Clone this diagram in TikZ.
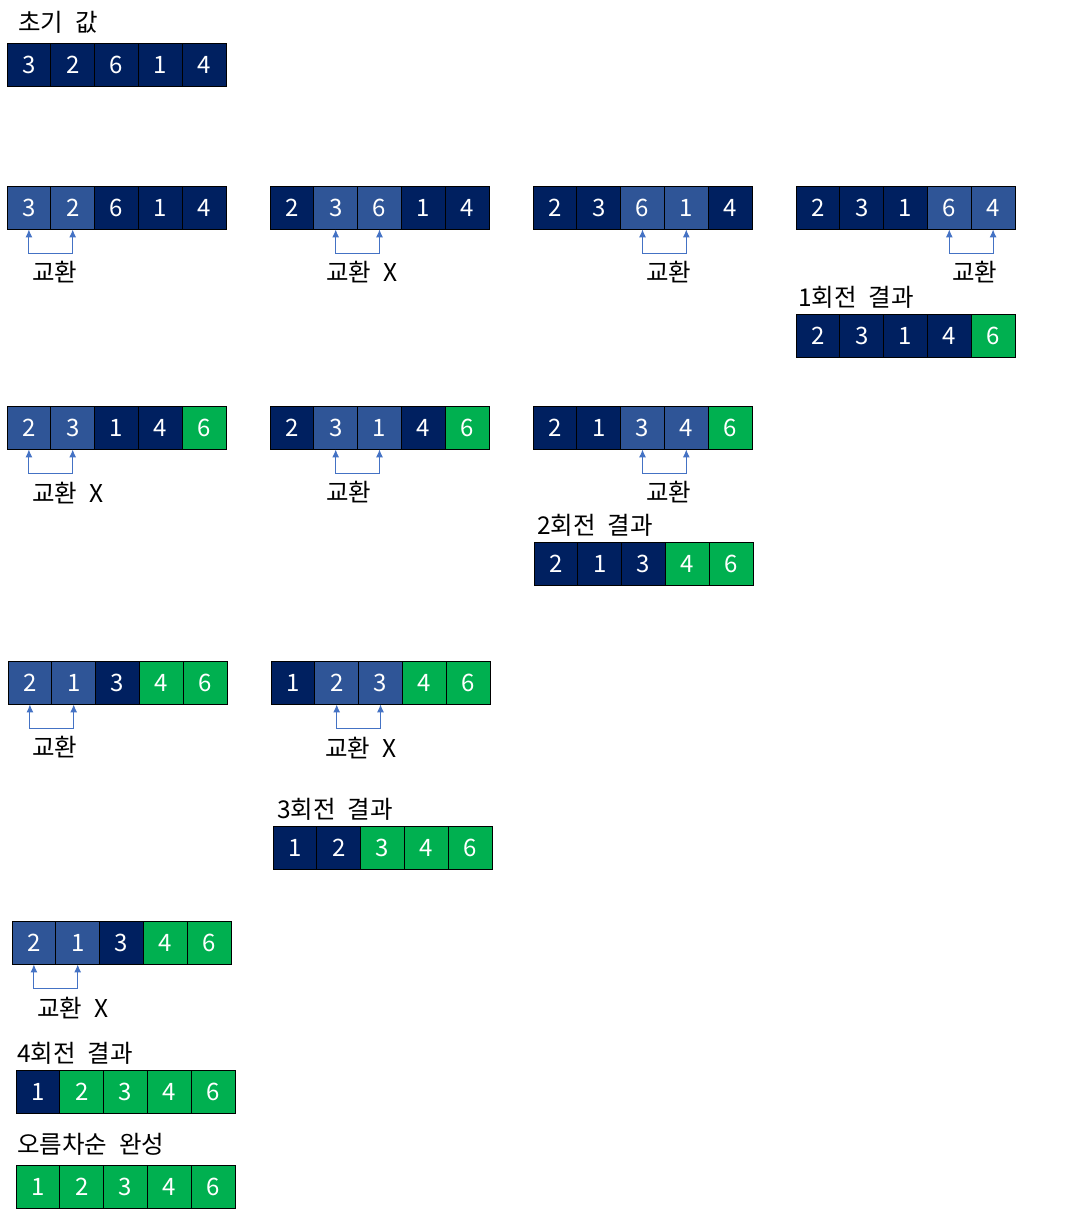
\documentclass[tikz,border=0pt]{standalone}
\usepackage{fontspec}
\setmainfont[WordSpace=2.2]{Noto Sans CJK KR}
\usetikzlibrary{arrows.meta}
\definecolor{nv}{HTML}{002060}
\definecolor{hl}{HTML}{2F5597}
\definecolor{gr}{HTML}{00B050}
\definecolor{ar}{HTML}{4472C4}
\tikzset{
  cell/.style={draw=black, line width=0.9pt, minimum width=43.8pt, minimum height=43pt, inner sep=0pt, text=white, font=\fontsize{24}{26}\selectfont},
  lbl/.style={anchor=west, inner sep=0pt, font=\fontsize{24.5}{26}\selectfont, text=black},
  swaparrow/.style={draw=ar, line width=1pt, {Latex[length=8pt,width=7pt]}-{Latex[length=8pt,width=7pt]}}
}
% #1 name, #2 left x, #3 top y, #4 list value/colour
\newcommand\cellrow[4]{%
  \foreach \v/\cc [count=\i from 0] in {#4} {
    \node[cell, fill=\cc] (#1-\i) at ({#2+\i*43.8+21.9},{#3+21.5}) {\v};
  }%
}
\newcommand\swapmark[3]{%
  \draw[swaparrow] (#1-#2.south) -- ++(0,24) -| (#1-#3.south);
}
\begin{document}
\begin{tikzpicture}[x=1pt,y=-1pt]
\path[use as bounding box] (0,0) rectangle (1067,1215);

\node[lbl] (t0) at (18,22) {초기 값};
\cellrow{a0}{7}{43}{3/nv,2/nv,6/nv,1/nv,4/nv}

% pass 1
\cellrow{p1a}{7}{186}{3/hl,2/hl,6/nv,1/nv,4/nv}
\swapmark{p1a}{0}{1}
\node[lbl] (l1a) at (32,272) {교환};
\cellrow{p1b}{270}{186}{2/nv,3/hl,6/hl,1/nv,4/nv}
\swapmark{p1b}{1}{2}
\node[lbl] (l1b) at (326,272) {교환 X};
\cellrow{p1c}{533}{186}{2/nv,3/nv,6/hl,1/hl,4/nv}
\swapmark{p1c}{2}{3}
\node[lbl] (l1c) at (646,272) {교환};
\cellrow{p1d}{796}{186}{2/nv,3/nv,1/nv,6/hl,4/hl}
\swapmark{p1d}{3}{4}
\node[lbl] (l1d) at (952,272) {교환};
\node[lbl] (r1) at (798,297) {1회전 결과};
\cellrow{s1}{796}{314}{2/nv,3/nv,1/nv,4/nv,6/gr}

% pass 2
\cellrow{p2a}{7}{406}{2/hl,3/hl,1/nv,4/nv,6/gr}
\swapmark{p2a}{0}{1}
\node[lbl] (l2a) at (32,493) {교환 X};
\cellrow{p2b}{270}{406}{2/nv,3/hl,1/hl,4/nv,6/gr}
\swapmark{p2b}{1}{2}
\node[lbl] (l2b) at (326,492) {교환};
\cellrow{p2c}{533}{406}{2/nv,1/nv,3/hl,4/hl,6/gr}
\swapmark{p2c}{2}{3}
\node[lbl] (l2c) at (646,492) {교환};
\node[lbl] (r2) at (537,525) {2회전 결과};
\cellrow{s2}{534}{542}{2/nv,1/nv,3/nv,4/gr,6/gr}

% pass 3
\cellrow{p3a}{8}{661}{2/hl,1/hl,3/nv,4/gr,6/gr}
\swapmark{p3a}{0}{1}
\node[lbl] (l3a) at (32,747) {교환};
\cellrow{p3b}{271}{661}{1/nv,2/hl,3/hl,4/gr,6/gr}
\swapmark{p3b}{1}{2}
\node[lbl] (l3b) at (325,748) {교환 X};
\node[lbl] (r3) at (277,809) {3회전 결과};
\cellrow{s3}{273}{826}{1/nv,2/nv,3/gr,4/gr,6/gr}

% pass 4
\cellrow{p4a}{12}{921}{2/hl,1/hl,3/nv,4/gr,6/gr}
\swapmark{p4a}{0}{1}
\node[lbl] (l4a) at (37,1008) {교환 X};
\node[lbl] (r4) at (17,1053) {4회전 결과};
\cellrow{s4}{16}{1070}{1/nv,2/gr,3/gr,4/gr,6/gr}

\node[lbl] (fin) at (17,1144) {오름차순 완성};
\cellrow{s5}{16}{1165}{1/gr,2/gr,3/gr,4/gr,6/gr}
\end{tikzpicture}
\end{document}
